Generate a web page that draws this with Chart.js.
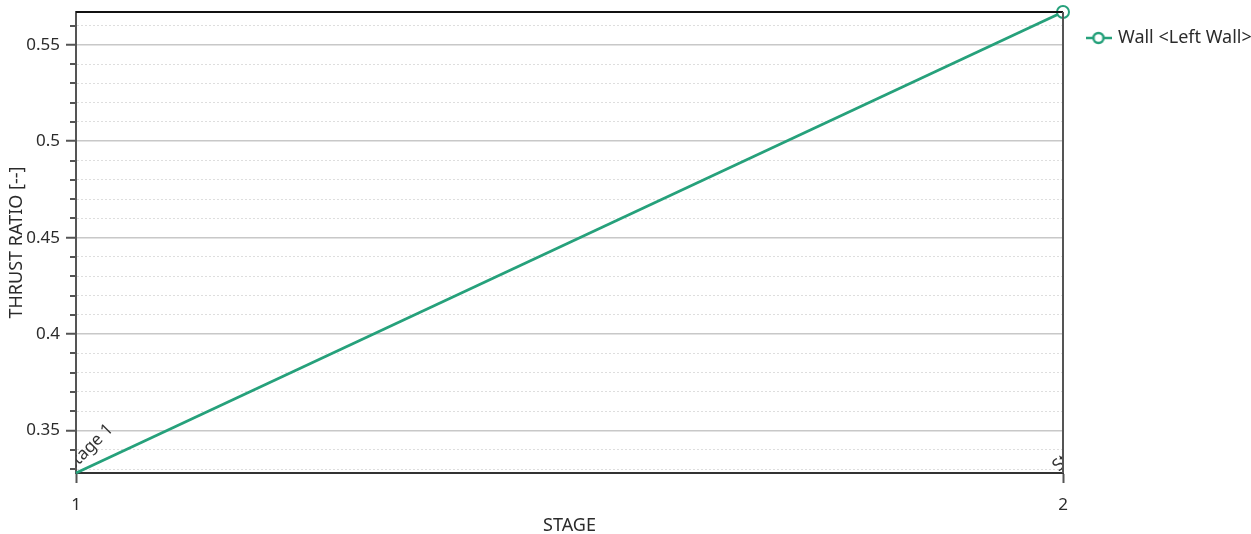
<!DOCTYPE html>
<html>
<head>
<meta charset="utf-8">
<script src="https://cdn.jsdelivr.net/npm/chart.js@4.4.0/dist/chart.umd.min.js"></script>
<style>
  html, body { margin: 0; padding: 0; background: #fff; }
  #wrap { width: 1251px; height: 534px; }
</style>
</head>
<body>
<div id="wrap"><canvas id="chart" width="1251" height="534"></canvas></div>
<script>
// data
const stageNames = ["Stage 1", "Stage 2"];
const stageNumbers = [1, 2];
const thrustRatio = [0.328, 0.567];
const seriesLabel = "Wall <Left Wall>";

const lineColor = "#26a17b";
const textColor = "#2b2b2b";

//is this y value a labelled (major) tick, every 0.05
const isMajor = (v) => Math.abs(v * 20 - Math.round(v * 20)) < 1e-6;

//legend symbol: a short line with a hollow circle on it
const legendIcon = document.createElement("canvas");
legendIcon.width = 26;
legendIcon.height = 16;
(function () {
  const c = legendIcon.getContext("2d");
  c.strokeStyle = lineColor;
  c.lineWidth = 2.5;
  c.beginPath();
  c.moveTo(0, 8);
  c.lineTo(26, 8);
  c.stroke();
  c.beginPath();
  c.arc(13, 8, 5, 0, Math.PI * 2);
  c.fillStyle = "#fff";
  c.fill();
  c.stroke();
})();

//frame on top and right side of the plot
const framePlugin = {
  id: "frame",
  afterDraw(chart) {
    const { ctx, chartArea: a } = chart;
    ctx.save();
    ctx.lineWidth = 2;
    ctx.strokeStyle = "#111";
    ctx.beginPath();
    ctx.moveTo(a.left, a.top);
    ctx.lineTo(a.right, a.top);
    ctx.stroke();
    ctx.strokeStyle = "#555";
    ctx.beginPath();
    ctx.moveTo(a.right, a.top);
    ctx.lineTo(a.right, a.bottom);
    ctx.stroke();
    //short minor tick marks on the y axis
    const y = chart.scales.y;
    ctx.strokeStyle = "#555";
    y.ticks.forEach((t) => {
      if (isMajor(t.value)) return;
      const py = Math.round(y.getPixelForValue(t.value));
      ctx.beginPath();
      ctx.moveTo(a.left - 6, py);
      ctx.lineTo(a.left, py);
      ctx.stroke();
    });
    ctx.restore();
  },
};

//stage names, rotated, at the bottom of the plot and clipped by it
const stageLabelPlugin = {
  id: "stageLabels",
  afterDatasetsDraw(chart) {
    const { ctx, chartArea: a } = chart;
    const x = chart.scales.x;
    ctx.save();
    ctx.beginPath();
    ctx.rect(a.left, a.top, a.right - a.left, a.bottom - a.top);
    ctx.clip();
    ctx.font = "17px 'Noto Sans'";
    ctx.fillStyle = "#333";
    ctx.textAlign = "left";
    ctx.textBaseline = "alphabetic";
    stageNumbers.forEach((n, i) => {
      const px = x.getPixelForValue(n);
      ctx.save();
      ctx.translate(px - 4, a.bottom - 1);
      ctx.rotate(-Math.PI / 4);
      ctx.fillText(stageNames[i], 0, 0);
      ctx.restore();
    });
    ctx.restore();
  },
};

new Chart(document.getElementById("chart"), {
  type: "line",
  plugins: [stageLabelPlugin, framePlugin],
  data: {
    datasets: [
      {
        label: seriesLabel,
        data: stageNumbers.map((s, i) => ({ x: s, y: thrustRatio[i] })),
        borderColor: lineColor,
        backgroundColor: "#fff",
        borderWidth: 2.8,
        pointRadius: (c) => (c.dataIndex === stageNumbers.length - 1 ? 6 : 0),
        pointBorderWidth: 2,
        pointBackgroundColor: "#fff",
        pointStyle: "circle",
        clip: false,
      },
    ],
  },
  options: {
    responsive: false,
    animation: false,
    layout: { padding: { top: 4, left: 0, right: 0, bottom: 0 } },
    plugins: {
      tooltip: { enabled: false },
      legend: {
        position: "right",
        align: "start",
        maxWidth: 188,
        labels: {
          usePointStyle: true,
          pointStyle: legendIcon,
          pointStyleWidth: 21,
          color: textColor,
          font: { family: "'Noto Sans'", size: 18 },
          padding: 25,
        },
      },
    },
    scales: {
      x: {
        type: "linear",
        min: stageNumbers[0],
        max: stageNumbers[stageNumbers.length - 1],
        afterFit: (s) => { s.height = 61; },
        ticks: {
          stepSize: 1,
          padding: 12,
          color: textColor,
          font: { family: "'Noto Sans'", size: 17 },
        },
        grid: {
          drawOnChartArea: false,
          tickLength: 10,
          tickWidth: 2,
          tickColor: "#555",
        },
        border: { color: "#333", width: 2 },
        title: {
          display: true,
          text: "STAGE",
          color: textColor,
          font: { family: "'Noto Sans'", size: 18 },
          padding: { top: 0, bottom: -3 },
        },
      },
      y: {
        min: thrustRatio[0],
        max: thrustRatio[thrustRatio.length - 1],
        afterFit: (s) => {
          s.width = 76;
          s.paddingTop = 12;
          s.paddingBottom = 0;
        },
        ticks: {
          stepSize: 0.01,
          includeBounds: false,
          autoSkip: false,
          padding: 6,
          color: textColor,
          font: { family: "'Noto Sans'", size: 17 },
          callback: (v) => (isMajor(v) ? String(Math.round(v * 100) / 100) : ""),
        },
        grid: {
          color: (c) => (c.tick && isMajor(c.tick.value) ? "#c8c8c8" : "#dedede"),
          lineWidth: (c) => (c.tick && isMajor(c.tick.value) ? 1.5 : 1),
          tickLength: 10,
          tickWidth: 2,
          tickColor: (c) => (c.tick && isMajor(c.tick.value) ? "#555" : "rgba(0,0,0,0)"),
        },
        border: {
          color: "#555",
          width: 2,
          dash: (c) => (c.tick && !isMajor(c.tick.value) ? [2, 2] : []),
        },
        title: {
          display: true,
          text: "THRUST RATIO [--]",
          color: textColor,
          font: { family: "'Noto Sans'", size: 18 },
          padding: { top: 6, bottom: 0 },
        },
      },
    },
  },
});
</script>
</body>
</html>
